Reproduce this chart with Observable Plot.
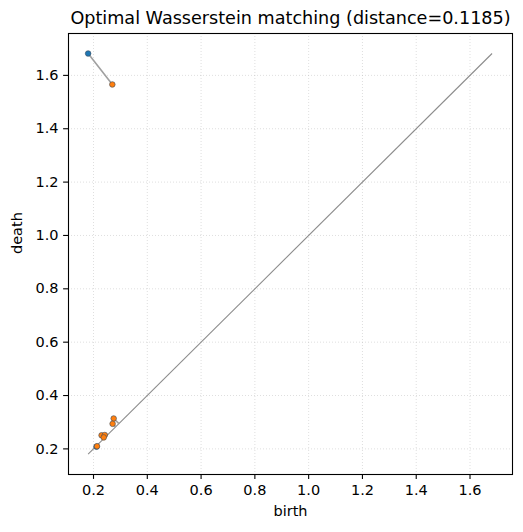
<!DOCTYPE html>
<html>
<head>
<meta charset="utf-8">
<script src="https://cdn.jsdelivr.net/npm/d3@7"></script>
<script src="https://cdn.jsdelivr.net/npm/@observablehq/plot@0.6"></script>
<style>
  html, body { margin: 0; padding: 0; background: #fff; }
  svg { display: block; }
</style>
</head>
<body>
<div id="chart"></div>
<script>
const titleText = "Optimal Wasserstein matching (distance=0.1185)";
const xLabel = "birth";
const yLabel = "death";
const tickValues = [0.2, 0.4, 0.6, 0.8, 1.0, 1.2, 1.4, 1.6];

// Diagram 1 (blue)
const dgm1Birth = [0.180, 0.211];
const dgm1Death = [1.682, 0.208];
// Diagram 2 (orange)
const dgm2Birth = [0.270, 0.275, 0.271, 0.230, 0.242, 0.238, 0.213];
const dgm2Death = [1.566, 0.314, 0.294, 0.251, 0.252, 0.243, 0.210];
// Matching: [index in dgm1 or -1 (diagonal), index in dgm2]
const matchDgm1 = [0, 1, -1, -1, -1, -1, -1];
const matchDgm2 = [0, 6, 1, 2, 3, 4, 5];
const diagLimits = [0.180, 1.682];
const xDomain = [0.107, 1.758];
const yDomain = [0.104, 1.757];

const dgm1 = dgm1Birth.map((b, i) => ({birth: b, death: dgm1Death[i]}));
const dgm2 = dgm2Birth.map((b, i) => ({birth: b, death: dgm2Death[i]}));
const segments = matchDgm2.map((j, k) => {
  const q = dgm2[j];
  const i = matchDgm1[k];
  let p;
  if (i >= 0) p = dgm1[i];
  else { const m = (q.birth + q.death) / 2; p = {birth: m, death: m}; }
  return {x1: p.birth, y1: p.death, x2: q.birth, y2: q.death};
});
const diag = [{x1: diagLimits[0], y1: diagLimits[0], x2: diagLimits[1], y2: diagLimits[1]}];

const fmt = d3.format(".1f");
const chart = Plot.plot({
  width: 523,
  height: 532,
  marginLeft: 68,
  marginRight: 11,
  marginTop: 33,
  marginBottom: 58,
  style: {fontFamily: "DejaVu Sans", fontSize: "14.5px", color: "#000", background: "#fff"},
  x: {domain: xDomain},
  y: {domain: yDomain},
  marks: [
    Plot.gridX(tickValues, {stroke: "#b0b0b0", strokeOpacity: 0.5, strokeDasharray: "1,2", strokeWidth: 0.8}),
    Plot.gridY(tickValues, {stroke: "#b0b0b0", strokeOpacity: 0.5, strokeDasharray: "1,2", strokeWidth: 0.8}),
    Plot.link(diag, {x1: "x1", y1: "y1", x2: "x2", y2: "y2", stroke: "#8c8c8c", strokeWidth: 1.1}),
    Plot.link(segments, {x1: "x1", y1: "y1", x2: "x2", y2: "y2", stroke: "#a0a0a0", strokeWidth: 1.6}),
    Plot.dot(dgm1, {x: "birth", y: "death", r: 2.8, fill: "#1f77b4", stroke: "#3b4a5a", strokeWidth: 0.6}),
    Plot.dot(dgm2, {x: "birth", y: "death", r: 2.8, fill: "#ff7f0e", stroke: "#3b4a5a", strokeWidth: 0.6}),
    Plot.axisX(tickValues, {tickSize: 4.9, tickPadding: 5, tickFormat: fmt, fontSize: 14.5, label: null, strokeWidth: 1.1}),
    Plot.axisY(tickValues, {tickSize: 4.9, tickPadding: 5, tickFormat: fmt, fontSize: 14.5, label: null, strokeWidth: 1.1}),
    Plot.frame({stroke: "#000", strokeWidth: 1.1}),
    Plot.text([titleText], {frameAnchor: "top", dy: -22, fontSize: 17.6, fill: "#000"}),
    Plot.text([xLabel], {frameAnchor: "bottom", dy: 41, fontSize: 14.5, fill: "#000"}),
    Plot.text([yLabel], {frameAnchor: "left", dx: -51, rotate: -90, fontSize: 14.5, fill: "#000"})
  ]
});
document.getElementById("chart").appendChild(chart);
</script>
</body>
</html>
